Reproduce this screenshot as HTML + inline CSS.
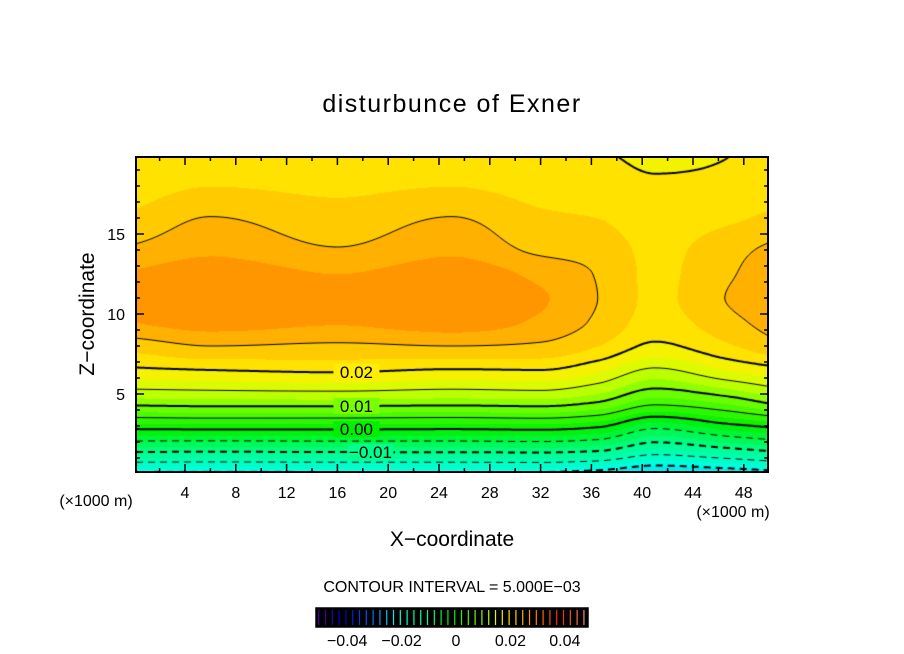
<!DOCTYPE html>
<html><head><meta charset="utf-8"><style>
body{margin:0;background:#fff;}
#wrap{position:relative;width:904px;height:654px;overflow:hidden;font-family:"Liberation Sans",sans-serif;}
canvas,svg{position:absolute;left:0;top:0;}
</style></head><body>
<div id="wrap">
<canvas id="cv" width="904" height="654"></canvas>
<svg id="sv" width="904" height="654"></svg>
</div>
<script>
// ---- data ----
const xCols = [0, 6, 16, 25, 32, 36.5, 41, 46.5, 50];
const zRows = [0, 1.5, 3, 4.5, 6.5, 8, 9.5, 11, 12.5, 14, 16, 18, 20];
const col0  = [-0.021,-0.009,0.0013,0.0112,0.0195,0.0235,0.0275,0.0285,0.0278,0.0255,0.023,0.0215,0.021];
const col6  = [-0.021,-0.0092,0.0015,0.0115,0.020,0.025,0.0285,0.0296,0.029,0.027,0.0251,0.0225,0.0212];
const col16 = [-0.021,-0.009,0.0015,0.0115,0.0205,0.0245,0.0277,0.0286,0.0275,0.0252,0.0235,0.022,0.0208];
const col25 = [-0.021,-0.009,0.0013,0.0112,0.0198,0.025,0.0287,0.0297,0.029,0.027,0.0251,0.0225,0.021];
const col32 = [-0.021,-0.0088,0.0016,0.0115,0.020,0.0245,0.027,0.0278,0.0268,0.0245,0.023,0.0215,0.0205];
const col36 = [-0.022,-0.0095,0.0005,0.010,0.018,0.0225,0.0245,0.025,0.0248,0.024,0.0225,0.021,0.0202];
const col41 = [-0.024,-0.013,-0.004,0.006,0.0145,0.0195,0.0215,0.022,0.022,0.0218,0.021,0.0203,0.0195];
const col46 = [-0.023,-0.011,-0.001,0.008,0.0175,0.022,0.024,0.025,0.0245,0.024,0.022,0.0205,0.0199];
const col50 = [-0.022,-0.0095,0.0005,0.0105,0.019,0.024,0.026,0.027,0.0265,0.0255,0.023,0.0215,0.021];
const columns = [col0,col6,col16,col25,col32,col36,col41,col46,col50];
const xTicks = [4,8,12,16,20,24,28,32,36,40,44,48];
const zTicks = [5,10,15];
const cbTicks = [-0.04,-0.02,0,0.02,0.04];
const cbTickLabels = ["\u22120.04","\u22120.02","0","0.02","0.04"];
const contourLabels = [{v:0.02,t:"0.02",x:17.5},{v:0.01,t:"0.01",x:17.5},{v:0.0,t:"0.00",x:17.5},{v:-0.01,t:"\u22120.01",x:18.6}];

// ---- axes ----
const L=136,R=768,T=157,B=472;
const X0=134.2, XS=12.7, Z0=474, ZS=16;
const sx=x=>X0+XS*x, sz=z=>Z0-ZS*z;
const ix=px=>(px-X0)/XS, iz=py=>(Z0-py)/ZS;

function pchip(xs,ys,t){
  const n=xs.length;
  if(t<=xs[0])return ys[0];
  if(t>=xs[n-1])return ys[n-1];
  let i=0;while(t>xs[i+1])i++;
  const h=[],d=[];
  for(let k=0;k<n-1;k++){h[k]=xs[k+1]-xs[k];d[k]=(ys[k+1]-ys[k])/h[k];}
  const m=k=>{
    if(k===0)return d[0];
    if(k===n-1)return d[n-2];
    if(d[k-1]*d[k]<=0)return 0;
    const w1=2*h[k]+h[k-1],w2=h[k]+2*h[k-1];
    return (w1+w2)/(w1/d[k-1]+w2/d[k]);
  };
  const s=(t-xs[i])/h[i],s2=s*s,s3=s2*s;
  return (2*s3-3*s2+1)*ys[i]+(s3-2*s2+s)*h[i]*m(i)+(-2*s3+3*s2)*ys[i+1]+(s3-s2)*h[i]*m(i+1);
}
function field(x,z){
  const colVals=columns.map(c=>pchip(zRows,c,z));
  return pchip(xCols,colVals,x);
}
const stopsV=[-0.05,-0.04,-0.03,-0.02,-0.01,0,0.01,0.015,0.02,0.0225,0.025,0.0275,0.03,0.04,0.05];
const stopsC=[[100,0,150],[0,0,200],[0,100,255],[0,255,235],[0,255,140],[0,240,0],[120,255,0],[210,255,0],[255,238,0],[255,215,0],[255,190,0],[255,162,0],[255,138,0],[255,30,0],[255,150,150]];
function color(v){
  v=Math.max(-0.05,Math.min(0.05,v));
  for(let i=0;i<stopsV.length-1;i++){ if(v<=stopsV[i+1]){const f=(v-stopsV[i])/(stopsV[i+1]-stopsV[i]);return stopsC[i].map((c,k)=>Math.round(c+(stopsC[i+1][k]-c)*f));}}
  return stopsC[stopsC.length-1];
}
const cv=document.getElementById('cv'),ctx=cv.getContext('2d');
const W=R-L,H=B-T;
const F=new Float32Array((W+1)*(H+1));
for(let py=0;py<=H;py++){const z=iz(T+py);const colVals=columns.map(c=>pchip(zRows,c,z));
  for(let px=0;px<=W;px++)F[py*(W+1)+px]=pchip(xCols,colVals,ix(L+px));}
const fAt=(px,py)=>F[Math.min(H,Math.max(0,py))*(W+1)+Math.min(W,Math.max(0,px))];
const img=ctx.createImageData(W,H);
for(let py=0;py<H;py++)for(let px=0;px<W;px++){
  let v=fAt(px,py);
  v=(Math.floor(v/0.0025)+0.5)*0.0025;
  const c=color(v),o=(py*W+px)*4;
  img.data[o]=c[0];img.data[o+1]=c[1];img.data[o+2]=c[2];img.data[o+3]=255;
}
ctx.putImageData(img,L,T);

ctx.save();ctx.beginPath();ctx.rect(L,T,W,H);ctx.clip();
const step=2;
for(let lv=-0.025;lv<=0.035;lv+=0.005){
  const v=Math.round(lv*1000)/1000;
  const major=Math.abs(Math.round(v*100)-v*100)<1e-6;
  ctx.lineWidth=major?2:1;
  ctx.strokeStyle='#000';
  if(v<0){
    ctx.beginPath();ctx.setLineDash([7,5]);let started=false;
    for(let px=0;px<=W;px++){
      let found=-1;
      for(let py=H;py>0;py--){const a=fAt(px,py),b=fAt(px,py-1);if(a<v&&b>=v){found=py-(v-a)/(b-a);break;}}
      if(found<0){started=false;continue;}
      if(!started){ctx.moveTo(L+px,T+found);started=true;}else ctx.lineTo(L+px,T+found);
    }
    ctx.stroke();ctx.setLineDash([]);
    continue;
  }
  ctx.beginPath();
  for(let j=0;j<H;j+=step)for(let i=0;i<W;i+=step){
    const a=fAt(i,j),b=fAt(i+step,j),c=fAt(i+step,j+step),d=fAt(i,j+step);
    const pts=[];
    const e=(p,q,x1,y1,x2,y2)=>{if((p<v)!==(q<v)){const f=(v-p)/(q-p);pts.push([x1+(x2-x1)*f,y1+(y2-y1)*f]);}};
    const X=L+i,Y=T+j;
    e(a,b,X,Y,X+step,Y);e(b,c,X+step,Y,X+step,Y+step);e(d,c,X,Y+step,X+step,Y+step);e(a,d,X,Y,X,Y+step);
    for(let k=0;k+1<pts.length;k+=2){ctx.moveTo(pts[k][0],pts[k][1]);ctx.lineTo(pts[k+1][0],pts[k+1][1]);}
  }
  ctx.stroke();
}
ctx.restore();

// ---- SVG overlay ----
const NS='http://www.w3.org/2000/svg', sv=document.getElementById('sv');
function mk(tag,attrs,parent){const el=document.createElementNS(NS,tag);for(const k in attrs)el.setAttribute(k,attrs[k]);(parent||sv).appendChild(el);return el;}
function txt(s,x,y,size,anchor,name){const t=mk('text',{x:x,y:y,'font-size':size,'text-anchor':anchor||'middle','font-family':'Liberation Sans, sans-serif',fill:'#000'});t.textContent=s;


return t;}

contourLabels.forEach(cl=>{
  let zc=0;for(let z=0.1;z<20;z+=0.02){if(field(cl.x,z)>=cl.v){zc=z;break;}}
  const px=sx(cl.x),py=sz(zc);
  const bg=mk('rect',{x:px-23,y:py-8,width:46,height:16,fill:'rgb('+color(cl.v).join(',')+')'});
  
  
  txt(cl.t,px,py+6,17,'middle','contour-label');
});

const frame=mk('rect',{x:L,y:T,width:W,height:H,fill:'none',stroke:'#000','stroke-width':2});


let tp='';
for(let x=2;x<50;x+=2){const p=sx(x),len=(x%4===0)?8:4;tp+=`M${p},${B}v${-len}M${p},${T}v${len}`;}
for(let z=1;z<20;z++){const p=sz(z),len=(z%5===0)?8:4;tp+=`M${L},${p}h${len}M${R},${p}h${-len}`;}
const ticks=mk('path',{d:tp,stroke:'#000','stroke-width':1.5,fill:'none'});


xTicks.forEach(x=>txt(String(x),sx(x),498,16,'middle','x-tick-label'));
zTicks.forEach(z=>txt(String(z),125,sz(z)+6,16,'end','y-tick-label'));
txt('(\u00d71000 m)',96,506,16,'middle','x-unit-left');
txt('(\u00d71000 m)',733,517,16,'middle','x-unit-right');
txt('X\u2212coordinate',452,546,21,'middle','x-axis-title');
const yt=txt('Z\u2212coordinate',0,0,21,'middle','y-axis-title');
yt.setAttribute('transform','translate(94,314) rotate(-90)');
const title=txt('disturbunce of Exner',452,112,25,'middle','chart-title');
title.setAttribute('letter-spacing','1.5');
txt('CONTOUR INTERVAL = 5.000E\u221203',452,592,16,'middle','contour-interval-note');

const cbL=316,cbR=588,cbT=608,cbB=627;
const cbx=v=>cbL+(v+0.05)/0.1*(cbR-cbL);
const cbg=mk('rect',{x:cbL,y:cbT,width:cbR-cbL,height:cbB-cbT,fill:'#000',stroke:'#000','stroke-width':1.5});


for(let v=-0.049;v<0.05;v+=0.0025){
  const l=mk('line',{x1:cbx(v),x2:cbx(v),y1:cbT+2,y2:cbB-2,stroke:'rgb('+color(v).join(',')+')','stroke-width':1.2});
  
  
}
cbTicks.forEach((v,i)=>txt(cbTickLabels[i],cbx(v)+4,646,16,'middle','colorbar-tick-label'));
</script>
</body></html>
